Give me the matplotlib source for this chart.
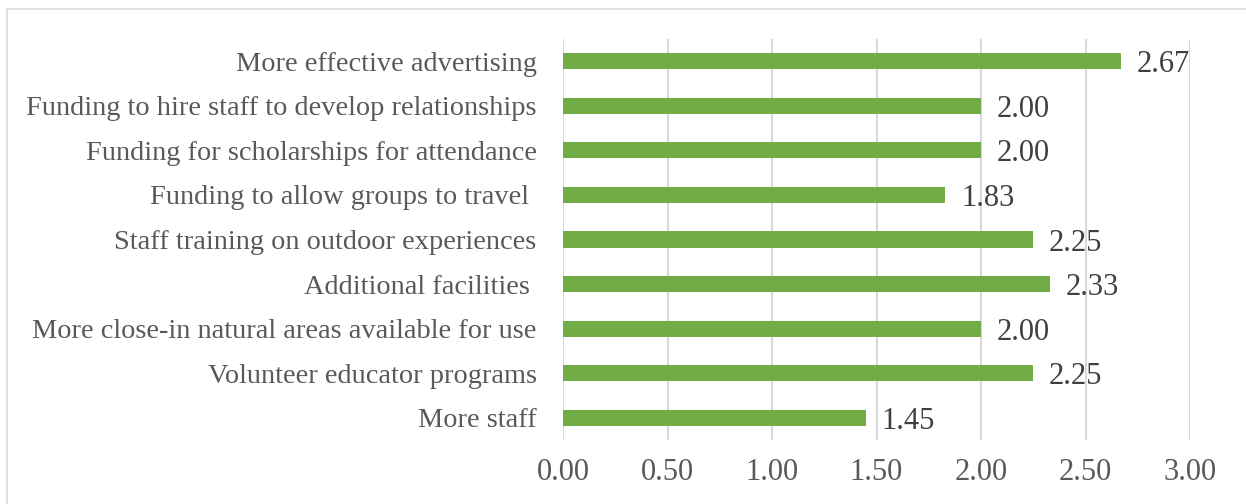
import matplotlib.pyplot as plt
from matplotlib.patches import Rectangle

# survey items, listed top to bottom
items = [
    "More effective advertising",
    "Funding to hire staff to develop relationships",
    "Funding for scholarships for attendance",
    "Funding to allow groups to travel ",
    "Staff training on outdoor experiences",
    "Additional facilities ",
    "More close-in natural areas available for use",
    "Volunteer educator programs",
    "More staff",
]
scores = [2.67, 2.00, 2.00, 1.83, 2.25, 2.33, 2.00, 2.25, 1.45]
xticks = [0, 0.5, 1.0, 1.5, 2.0, 2.5, 3.0]

text_col = "#595959"
bar_col = "#70AD47"
grid_col = "#D9D9D9"
serif = ["Liberation Serif", "DejaVu Serif"]

fig = plt.figure(figsize=(12.46, 5.04), dpi=100)
ax = fig.add_axes([563 / 1246, 1 - 440 / 504, (1190 - 563) / 1246, (440 - 39) / 504])

# light frame round the whole chart
fig.patches.append(Rectangle((7 / 1246, -0.1), 1.2, 1 - 9 / 504 + 0.1,
                             transform=fig.transFigure, fill=False,
                             edgecolor="#D9D9D9", linewidth=1.2))

ypos = list(range(len(items) - 1, -1, -1))
ax.barh(ypos, scores, height=0.36, color=bar_col, zorder=3)

for y, v in zip(ypos, scores):
    ax.text(v + 0.075, y - 0.08, f"{v:.2f}", va="center", ha="left",
            fontsize=22, color="#404040", family=serif)

ax.set_xlim(0, 3.0)
ax.set_ylim(-0.5, len(items) - 0.5)
ax.set_xticks(xticks)
ax.set_xticklabels([f"{t:.2f}" for t in xticks], fontsize=22, color=text_col, family=serif)
ax.set_yticks(ypos)
ax.set_yticklabels(items, fontsize=20.4, color=text_col, family=serif)
ax.tick_params(axis="x", length=0, pad=13)
ax.tick_params(axis="y", length=0, pad=19)

ax.grid(axis="x", color=grid_col, linewidth=1.5, zorder=0)
for s in ax.spines.values():
    s.set_visible(False)

fig.savefig("out.png", dpi=100)
